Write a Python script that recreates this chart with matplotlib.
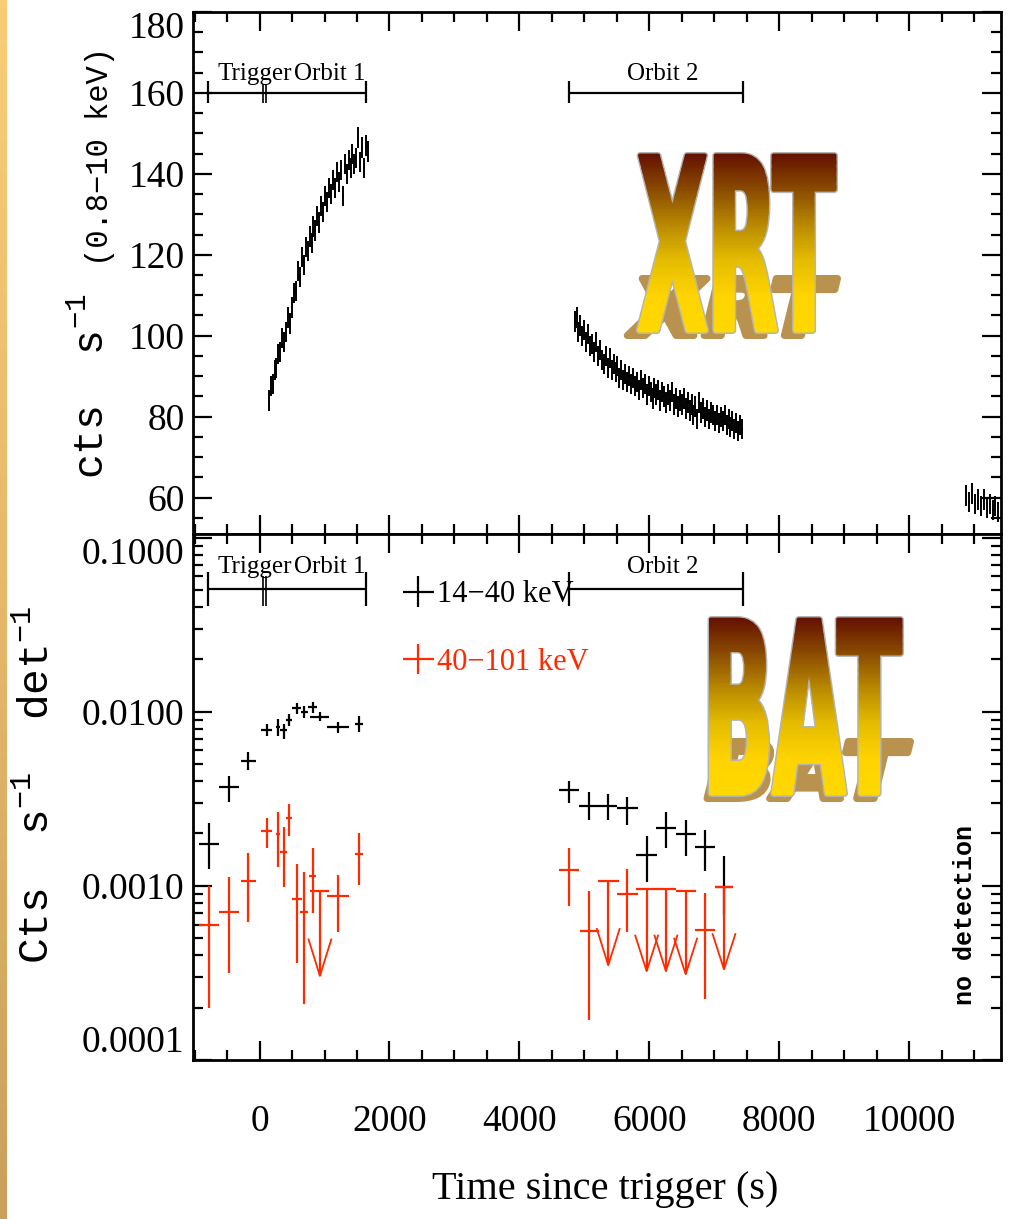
import numpy as np
import matplotlib
matplotlib.use("Agg")
import matplotlib.pyplot as plt
from matplotlib.ticker import MultipleLocator, FixedLocator, LogLocator, NullFormatter, FormatStrFormatter
from matplotlib.textpath import TextPath
from matplotlib.font_manager import FontProperties
from matplotlib.patches import PathPatch, Rectangle
from matplotlib.path import Path
from matplotlib.colors import LinearSegmentedColormap

plt.rcParams['font.family'] = ['Liberation Serif', 'DejaVu Serif']
plt.rcParams['mathtext.fontset'] = 'custom'
plt.rcParams['mathtext.rm'] = 'Liberation Mono'
plt.rcParams['mathtext.it'] = 'Liberation Mono'

RED = '#ff2a00'

# XRT count rates (0.8-10 keV), three orbits
xrt1_t = np.arange(140, 1680, 30)
xrt1_rate = [84.0, 87.5, 88.0, 91.5, 92.0, 95.5, 96.0, 99.5, 98.5, 101.0,
             104.5, 103.0, 107.0, 110.5, 111.0, 116.0, 114.5, 119.5, 117.5, 122.0,
             121.0, 124.5, 123.0, 127.0, 126.0, 129.5, 128.0, 132.0, 130.5, 134.5,
             133.0, 136.5, 135.0, 138.5, 136.5, 140.5, 138.0, 141.0, 134.5, 142.5,
             140.0, 143.5, 141.5, 145.0, 142.5, 144.0, 149.0, 143.0, 146.5, 141.5,
             147.0, 145.5]
xrt2_t = np.arange(4850, 7450, 30)
xrt2_rate = [103.5, 104.5, 101.0, 102.5, 100.0, 101.5, 98.5, 100.5, 97.5, 98.0,
             96.0, 98.5, 95.0, 96.5, 94.0, 93.0, 95.0, 92.0, 94.5, 91.5,
             93.0, 91.0, 92.5, 89.5, 91.5, 89.0, 90.5, 88.5, 90.0, 88.0,
             89.5, 87.5, 88.5, 86.5, 89.0, 87.0, 88.0, 85.5, 87.5, 86.0,
             84.5, 87.0, 85.5, 86.5, 84.0, 86.0, 85.0, 83.5, 85.5, 84.0,
             86.0, 83.0, 84.5, 82.5, 84.0, 83.0, 84.5, 82.0, 83.5, 81.5,
             83.0, 80.5, 82.5, 79.5, 83.5, 81.0, 82.0, 80.0, 81.5, 79.5,
             81.0, 80.5, 79.0, 80.5, 78.5, 80.0, 79.0, 80.5, 78.0, 79.5,
             77.5, 79.0, 77.0, 78.5, 76.5, 78.0, 77.0]
xrt3_t = np.arange(10880, 11420, 45)
xrt3_rate = [60.5, 59.0, 61.0, 58.5, 59.5, 58.0, 59.5, 57.5, 58.5, 57.0, 58.0, 56.5]
xrt_terr = 15
xrt_rerr = 2.5

# BAT 14-40 keV
lo_t = [-781, -473, -175, 108, 282, 369, 451, 569, 687, 816, 929, 1211, 1529,
        4763, 5076, 5368, 5661, 5959, 6256, 6560, 6857, 7150]
lo_dt = [154, 159, 118, 87, 31, 56, 51, 67, 56, 64, 146, 169, 64,
         157, 162, 128, 159, 164, 154, 154, 154, 136]
lo_rate = [0.00174, 0.00368, 0.00523, 0.00788, 0.00813, 0.00788, 0.0090, 0.01047, 0.0100, 0.0106, 0.00936, 0.00813, 0.0085,
           0.00356, 0.00288, 0.00288, 0.00280, 0.0015, 0.00214, 0.00198, 0.00168, 0.00098]
lo_top = [0.00231, 0.00428, 0.00585, 0.0085, 0.00908, 0.0085, 0.0097, 0.0112, 0.01083, 0.01132, 0.0100, 0.00869, 0.00949,
          0.00401, 0.00347, 0.00336, 0.00325, 0.00194, 0.00266, 0.00239, 0.00209, 0.00148]
lo_bot = [0.00125, 0.00304, 0.00463, 0.00728, 0.00728, 0.00697, 0.0083, 0.0097, 0.0092, 0.00983, 0.00881, 0.00751, 0.00768,
          0.00298, 0.00239, 0.00239, 0.00224, 0.00105, 0.00164, 0.00148, 0.00121, 0.00068]

# BAT 40-101 keV detections
hi_t = [-781, -473, -175, 108, 282, 369, 451, 569, 687, 816, 1211, 1529, 4763, 5076, 5661, 6857]
hi_dt = [154, 159, 118, 87, 31, 56, 51, 77, 62, 59, 169, 64, 157, 150, 159, 154]
hi_rate = [0.000594, 0.00071, 0.00107, 0.00207, 0.00198, 0.00156, 0.00244, 0.00084, 0.00071, 0.00114, 0.00087, 0.00152,
           0.00123, 0.00055, 0.00090, 0.00056]
hi_top = [0.0010, 0.00112, 0.00154, 0.00247, 0.00266, 0.00217, 0.00295, 0.00133, 0.00120, 0.00164, 0.00116, 0.00201,
          0.00164, 0.00094, 0.00125, 0.00091]
hi_bot = [0.00020, 0.000314, 0.000624, 0.00164, 0.00129, 0.00098, 0.00194, 0.000363, 0.000209, 0.000697, 0.000545, 0.00101,
          0.000767, 0.00017, 0.000545, 0.000223]

# BAT 40-101 keV upper limits
ul_t = [929, 5368, 5959, 6256, 6560, 7150]
ul_dt = [146, 159, 164, 149, 154, 136]
ul_val = [0.000935, 0.00107, 0.000966, 0.000966, 0.000929, 0.00098]
ul_tip = [0.000304, 0.00035, 0.000324, 0.000324, 0.000311, 0.000332]

# orbit markers
orbit_start = [-790, 4770]
orbit_end = [1640, 7440]
trigger_marks = [50, 100]
orbit_names = ['Orbit 1', 'Orbit 2']
orbit_label_x = [1075, 6200]

fig = plt.figure(figsize=(10.1, 12.19), dpi=100)
W, H = 1010.0, 1219.0
L, R = 193 / W, 1001 / W
y_top1 = 1 - 12 / H
y_mid = 1 - 534 / H
y_bot = 1 - 1060 / H
ax1 = fig.add_axes([L, y_mid, R - L, y_top1 - y_mid])
ax2 = fig.add_axes([L, y_bot, R - L, y_mid - y_bot], sharex=ax1)


def style(ax):
    ax.tick_params(which='both', direction='in', top=True, right=True, width=1.6, labelsize=27)
    ax.tick_params(which='major', length=14)
    ax.tick_params(which='minor', length=7)
    ax.tick_params(axis='y', pad=6)
    for s in ax.spines.values():
        s.set_linewidth(2)


def brackets(ax, y, y_lo, y_hi, y_trig, y_text):
    ax.hlines([y] * len(orbit_start), orbit_start, orbit_end, color='black', lw=1.6)
    ax.vlines(orbit_start + orbit_end, y_lo, y_hi, color='black', lw=1.6)
    ax.vlines(trigger_marks, y_lo, y_trig, color='black', lw=1.2)
    ax.text(-70, y_text, 'Trigger', ha='center', va='baseline', fontsize=18)
    for xn, name in zip(orbit_label_x, orbit_names):
        ax.text(xn, y_text, name, ha='center', va='baseline', fontsize=18)


for ax in (ax1, ax2):
    style(ax)
    ax.xaxis.set_major_locator(MultipleLocator(2000))
    ax.xaxis.set_minor_locator(MultipleLocator(500))

ax1.set_xlim(-1025, 11415)
ax1.set_ylim(51, 180)
ax1.yaxis.set_major_locator(MultipleLocator(20))
ax1.yaxis.set_minor_locator(MultipleLocator(5))
ax1.tick_params(labelbottom=False)

# XRT light curve
for t, r in ((xrt1_t, xrt1_rate), (xrt2_t, xrt2_rate), (xrt3_t, xrt3_rate)):
    ax1.errorbar(t, r, xerr=xrt_terr, yerr=xrt_rerr, fmt='none', ecolor='black', elinewidth=1.4)

brackets(ax1, 160, 157.5, 163, 162.3, 163.2)

# BAT panel
ax2.set_yscale('log')
ax2.set_ylim(1e-4, 0.105)
ax2.yaxis.set_major_locator(FixedLocator([1e-4, 1e-3, 1e-2, 1e-1]))
ax2.yaxis.set_major_formatter(FormatStrFormatter('%.4f'))
ax2.yaxis.set_minor_locator(LogLocator(base=10, subs=np.arange(2, 10)))
ax2.yaxis.set_minor_formatter(NullFormatter())
ax2.tick_params(axis='x', pad=32)

lo_rate_a = np.array(lo_rate)
hi_rate_a = np.array(hi_rate)
eb_lo = ax2.errorbar(lo_t, lo_rate, xerr=lo_dt,
                     yerr=[lo_rate_a - np.array(lo_bot), np.array(lo_top) - lo_rate_a],
                     fmt='none', ecolor='black', elinewidth=1.6)
eb_hi = ax2.errorbar(hi_t, hi_rate, xerr=hi_dt,
                     yerr=[hi_rate_a - np.array(hi_bot), np.array(hi_top) - hi_rate_a],
                     fmt='none', ecolor=RED, elinewidth=1.6)

# upper limits drawn as long arrows with open heads
ul_t_a = np.array(ul_t)
ul_val_a = np.array(ul_val)
ul_tip_a = np.array(ul_tip)
ax2.errorbar(ul_t, ul_val, xerr=ul_dt, fmt='none', ecolor=RED, elinewidth=1.6)
ax2.vlines(ul_t, ul_tip, ul_val, color=RED, lw=1.6)
wing_y = ul_tip_a * (ul_val_a / ul_tip_a) ** 0.43
for xt, yt, yw in zip(ul_t_a, ul_tip_a, wing_y):
    ax2.plot([xt - 175, xt, xt + 175], [yw, yt, yw], color=RED, lw=1.3)

brackets(ax2, 0.0507, 0.0404, 0.0636, 0.060, 0.0625)

leg = ax2.legend([eb_lo, eb_hi], ['14\u221240 keV', '40\u2212101 keV'],
                 loc='upper left', bbox_to_anchor=(0.262, 0.912), frameon=False,
                 prop=FontProperties(family='Liberation Serif', size=22),
                 handlelength=0.9, handletextpad=0.15, labelspacing=1.26, borderpad=0, borderaxespad=0)
for txt, col in zip(leg.get_texts(), ['black', RED]):
    txt.set_color(col)

ax2.text(0.955, 0.276, 'no detection', transform=ax2.transAxes, rotation=90,
         ha='center', va='center', fontsize=18, fontweight='bold', family='Liberation Mono')

# PGPLOT keeps the end labels inside the frame
fig.canvas.draw()
for tk in ax1.yaxis.get_major_ticks():
    if np.isclose(tk.get_loc(), 180):
        tk.label1.set_va('top')
for tk in ax2.yaxis.get_major_ticks():
    if np.isclose(tk.get_loc(), 0.1):
        tk.label1.set_va('top')
    elif np.isclose(tk.get_loc(), 1e-4):
        tk.label1.set_va('bottom')

# axis labels
fig.text(605 / W, 1 - 1190 / H, 'Time since trigger (s)', ha='center', va='center', fontsize=29)
fig.text(92 / W, 1 - 386 / H, r'cts  s$^{-1}$', rotation=90, ha='center', va='center',
         fontsize=30, family='Liberation Mono')
fig.text(100 / W, 1 - 156 / H, '(0.8\u221210 keV)', rotation=90, ha='center', va='center',
         fontsize=22, family='Liberation Mono')
fig.text(37 / W, 1 - 785 / H, r'Cts  s$^{-1}$  det$^{-1}$', rotation=90, ha='center', va='center',
         fontsize=31, family='Liberation Mono')

# overlay for the decorations (word art and left stripe), in pixel units
ov = fig.add_axes([0, 0, 1, 1], zorder=10)
ov.set_xlim(0, W)
ov.set_ylim(H, 0)
ov.axis('off')
ov.patch.set_visible(False)

stripe = np.linspace(0, 1, 200).reshape(-1, 1)
stripe_cmap = LinearSegmentedColormap.from_list('stripe', ['#f8cd78', '#e6b86a', '#c9a05c'])
ov.imshow(stripe, cmap=stripe_cmap, extent=[0, 7, H, 0], aspect='auto', origin='upper')

gold = LinearSegmentedColormap.from_list('gold', ['#641000', '#8a4a00', '#b98a00', '#e6bd00', '#ffd400', '#ffd800'])
word_font = FontProperties(family='DejaVu Sans', weight='bold', style='normal')
PX = 72.0 / 100  # points per pixel


def word_path(word, x0, y0, w, h, shear=0.0):
    tp = TextPath((0, 0), word, size=100, prop=word_font)
    v = tp.vertices
    xmin, ymin = v.min(axis=0)
    xmax, ymax = v.max(axis=0)
    u = (v[:, 0] - xmin) / (xmax - xmin)
    t = (v[:, 1] - ymin) / (ymax - ymin)
    X = x0 + u * w + shear * t
    Y = y0 + h - t * h
    return Path(np.column_stack([X, Y]), tp.codes)


def word_art(word, box, shadow_box, fat=4, rim=3, nband=80):
    x0, y0, w, h = box
    sx, sy, sw, sh = shadow_box
    # fill area is grown by stroking, so shrink the glyph box by half the stroke
    g = (fat + rim) / 2
    x0i, y0i, wi, hi = x0 + g, y0 + g, w - 2 * g, h - 2 * g
    shadow = word_path(word, sx + g, sy + g, sw - 2 * g, sh - 2 * g, shear=14)
    ov.add_patch(PathPatch(shadow, facecolor='#b8924e', edgecolor='#b8924e', lw=(fat + rim) * PX, joinstyle='round'))
    main = word_path(word, x0i, y0i, wi, hi)
    ov.add_patch(PathPatch(main, facecolor='#b4b4b4', edgecolor='#b4b4b4', lw=(fat + rim) * PX, joinstyle='round'))
    edges = np.linspace(y0, y0 + h, nband + 1)
    cols = gold(np.linspace(0, 1, nband))
    for k in range(nband):
        band = Rectangle((x0 - 20, edges[k]), w + 40, edges[k + 1] - edges[k] + 0.6, transform=ov.transData)
        p = PathPatch(main, facecolor=cols[k], edgecolor=cols[k], lw=fat * PX, joinstyle='round')
        ov.add_patch(p)
        p.set_clip_path(band)


word_art('XRT', (634, 152, 204, 182), (622, 275, 205, 64))
word_art('BAT', (699, 616, 205, 181), (695, 738, 205, 64))
ov.set_xlim(0, W)
ov.set_ylim(H, 0)

fig.savefig('out.png', dpi=100, facecolor='white')
